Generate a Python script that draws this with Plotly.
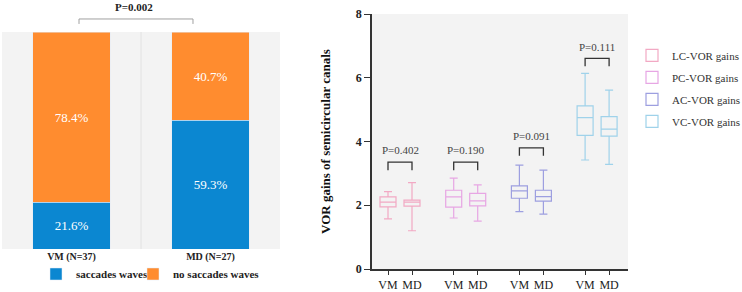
import plotly.graph_objects as go

# ---------------- data ----------------
groups = ["VM (N=37)", "MD (N=27)"]
saccades = [21.6, 59.3]
no_saccades = [78.4, 40.7]
p_left = "P=0.002"

canals = ["LC-VOR gains", "PC-VOR gains", "AC-VOR gains", "VC-VOR gains"]
colors = ["#f2a9c4", "#e7a6e4", "#9d9fe0", "#9fd2ea"]
# [VM, MD] per canal
lower = [[1.57, 1.20], [1.60, 1.50], [1.80, 1.72], [3.42, 3.28]]
q1 = [[1.95, 1.97], [1.94, 1.98], [2.22, 2.13], [4.19, 4.17]]
med = [[2.10, 2.10], [2.26, 2.14], [2.45, 2.27], [4.75, 4.39]]
q3 = [[2.26, 2.16], [2.47, 2.37], [2.61, 2.47], [5.12, 4.78]]
upper = [[2.43, 2.71], [2.85, 2.64], [3.26, 3.10], [6.14, 5.61]]
p_right = ["P=0.402", "P=0.190", "P=0.091", "P=0.111"]
bracket_y = [3.35, 3.35, 3.80, 6.61]
tick_labels = ["VM", "MD"]

SERIF = "Liberation Serif, Times New Roman, serif"
BLUE = "#0b87d1"
ORANGE = "#ff8c2f"

# box positions on the right axis (pixel-like units)
GROUP_STEP = 65.7
POS = [[16 + GROUP_STEP * g, 40 + GROUP_STEP * g] for g in range(4)]

fig = go.Figure()

# ---------------- left stacked bars ----------------
fig.add_trace(go.Bar(
    x=groups, y=saccades, name="<b>saccades waves</b>", marker_color=BLUE,
    width=0.56, texttemplate="%{y:.1f}%", textposition="inside",
    insidetextanchor="middle", constraintext="none",
    textfont=dict(family=SERIF, size=13, color="white"),
    xaxis="x", yaxis="y", legend="legend2", legendwidth=52))
fig.add_trace(go.Bar(
    x=groups, y=no_saccades, name="<b>no saccades waves</b>", marker_color=ORANGE,
    width=0.56, texttemplate="%{y:.1f}%", textposition="inside",
    insidetextanchor="middle", constraintext="none",
    textfont=dict(family=SERIF, size=13, color="white"),
    xaxis="x", yaxis="y", legend="legend2", legendwidth=100))

# ---------------- right box plots ----------------
for i, name in enumerate(canals):
    fig.add_trace(go.Box(
        x=POS[i], q1=q1[i], median=med[i], q3=q3[i],
        lowerfence=lower[i], upperfence=upper[i],
        name=name, legendgroup=name, width=16, whiskerwidth=0.5,
        line=dict(color=colors[i], width=1.2), fillcolor="rgba(0,0,0,0)",
        boxpoints=False, xaxis="x2", yaxis="y2", legend="legend"))

shapes = []
annotations = []
# left bracket + p value
shapes.append(dict(type="path", xref="x", yref="paper",
                   path="M 0.054,0.918 L 0.054,0.935 L 0.874,0.935 L 0.874,0.918",
                   line=dict(color="#a0a0a0", width=1)))
annotations.append(dict(x=0.45, y=0.976, xref="x", yref="paper", text="<b>" + p_left + "</b>",
                        showarrow=False, font=dict(family=SERIF, size=11, color="#222"),
                        xanchor="center", yanchor="middle"))
# divider line between categories
shapes.append(dict(type="line", xref="x", yref="y domain", x0=0.5, x1=0.5, y0=0, y1=1,
                   line=dict(color="#e2e2e2", width=1), layer="below"))

# right brackets
for g in range(4):
    xa, xb = POS[g]
    yb = bracket_y[g]
    shapes.append(dict(type="path", xref="x2", yref="y2",
                       path=f"M {xa},{yb-0.25} L {xa},{yb} L {xb},{yb} L {xb},{yb-0.25}",
                       line=dict(color="#333333", width=1.3)))
    annotations.append(dict(x=(xa + xb) / 2, y=yb + 0.37, xref="x2", yref="y2",
                            text=p_right[g], showarrow=False,
                            font=dict(family=SERIF, size=11, color="#444"),
                            xanchor="center", yanchor="middle"))

tickvals = [p for pair in POS for p in pair]
ticktext = tick_labels * 4

fig.update_layout(
    width=742, height=292,
    margin=dict(l=0, r=0, t=0, b=0, autoexpand=False),
    paper_bgcolor="white", plot_bgcolor="#f3f3f3",
    barmode="stack", boxmode="overlay",
    font=dict(family=SERIF, color="#222"),
    xaxis=dict(domain=[2 / 742, 280 / 742], type="category", showline=False,
               showgrid=False, ticks="", tickfont=dict(family=SERIF, size=10, color="#222"),
               tickprefix="<b>", ticksuffix="</b>", fixedrange=True, automargin=False),
    yaxis=dict(domain=[43 / 292, 260 / 292], range=[0, 100], visible=False),
    xaxis2=dict(domain=[372 / 742, 628 / 742], anchor="y2", range=[0, 256],
                tickvals=tickvals, ticktext=ticktext, showgrid=False, zeroline=False,
                showline=True, linecolor="#333", linewidth=1.5,
                ticks="outside", ticklen=4, tickcolor="#333", tickwidth=1.2,
                tickfont=dict(family=SERIF, size=12, color="#222"), automargin=False),
    yaxis2=dict(domain=[23 / 292, 278 / 292], anchor="x2", range=[0, 8], dtick=2,
                showgrid=False, zeroline=False, showline=True, linecolor="#333",
                linewidth=1.5, ticks="outside", ticklen=6, tickcolor="#333",
                tickwidth=1.2, tickprefix="<b>", ticksuffix="</b>", automargin=False,
                tickfont=dict(family=SERIF, size=12, color="#222"),
                title=dict(text="<b>VOR gains of semicircular canals</b>",
                           font=dict(family=SERIF, size=13, color="#111"), standoff=22)),
    legend=dict(x=632 / 742, y=0.86, xanchor="left", yanchor="top",
                font=dict(family=SERIF, size=11, color="#333"),
                bgcolor="rgba(0,0,0,0)", tracegroupgap=3, traceorder="grouped"),
    legend2=dict(x=36 / 742, y=0.012, xanchor="left", yanchor="bottom",
                 orientation="h", font=dict(family=SERIF, size=11, color="#222"),
                 bgcolor="rgba(0,0,0,0)", itemwidth=30, traceorder="normal"),
    shapes=shapes, annotations=annotations,
    showlegend=True,
)

fig.write_html("out.html", config={"displayModeBar": False},
               post_script="document.body.style.margin='0';document.body.style.overflow='hidden';")
